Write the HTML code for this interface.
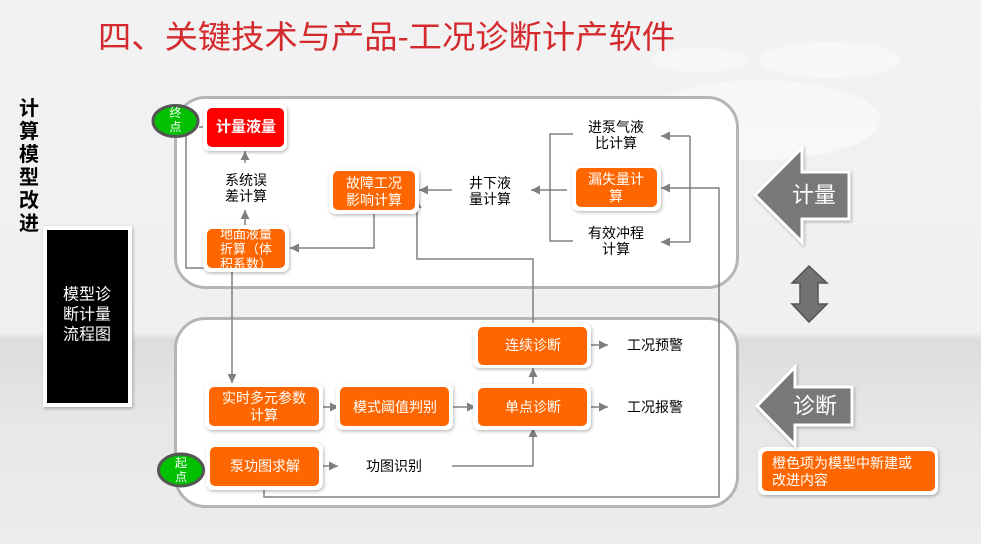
<!DOCTYPE html>
<html><head><meta charset="utf-8">
<style>
html,body{margin:0;padding:0;width:981px;height:544px;overflow:hidden;background:#f0f0f0;}
svg{display:block;}
text{font-family:"Liberation Sans","Noto Sans CJK SC",sans-serif;}
</style></head>
<body>
<svg width="981" height="544" viewBox="0 0 981 544" xmlns="http://www.w3.org/2000/svg">
<defs>
<linearGradient id="bg" x1="0" y1="0" x2="0" y2="1">
<stop offset="0" stop-color="#f2f2f2"/>
<stop offset="0.61" stop-color="#f0f0f0"/>
<stop offset="0.625" stop-color="#dddddd"/>
<stop offset="0.8" stop-color="#e8e8e8"/>
<stop offset="1" stop-color="#ececec"/>
</linearGradient>
<filter id="sh" x="-20%" y="-20%" width="140%" height="140%">
<feDropShadow dx="1" dy="1.5" stdDeviation="1.5" flood-color="#000" flood-opacity="0.28"/>
</filter>
<marker id="ah" markerUnits="userSpaceOnUse" markerWidth="10" markerHeight="10" refX="9" refY="5" orient="auto">
<path d="M0,0.5 L9,5 L0,9.5 z" fill="#7f7f7f"/>
</marker>
</defs>
<rect x="0" y="0" width="981" height="544" fill="url(#bg)"/>
<!-- faint map shapes -->
<g fill="#f8f8f8" opacity="0.9">
<ellipse cx="330" cy="250" rx="70" ry="35"/>
<ellipse cx="430" cy="200" rx="90" ry="25"/>
<ellipse cx="760" cy="120" rx="120" ry="40"/>
<ellipse cx="830" cy="60" rx="70" ry="18"/>
<ellipse cx="700" cy="60" rx="50" ry="12"/>
</g>

<!-- title -->
<text x="98" y="48" font-size="32" fill="#d42a2e" textLength="577" lengthAdjust="spacingAndGlyphs">四、关键技术与产品-工况诊断计产软件</text>

<!-- left vertical text -->
<g font-size="20" font-weight="bold" fill="#000" text-anchor="middle" dominant-baseline="central">
<text x="29" y="109">计</text>
<text x="29" y="132">算</text>
<text x="29" y="155">模</text>
<text x="29" y="178">型</text>
<text x="29" y="201">改</text>
<text x="29" y="224">进</text>
</g>

<!-- black box -->
<rect x="43" y="226" width="89" height="181" fill="#fff" filter="url(#sh)"/>
<rect x="47" y="230" width="81" height="173" fill="#000"/>
<g font-size="16" fill="#fff" text-anchor="middle" dominant-baseline="central">
<text x="87" y="295">模型诊</text>
<text x="87" y="315">断计量</text>
<text x="87" y="335">流程图</text>
</g>

<!-- panels -->
<rect x="175.5" y="97.5" width="562" height="190" rx="30" fill="#fff" stroke="#b5b5b5" stroke-width="3"/>
<rect x="175.5" y="318.5" width="562" height="188" rx="30" fill="#fff" stroke="#b5b5b5" stroke-width="3"/>

<!-- connectors -->
<g stroke="#808080" stroke-width="1.5" fill="none">
<line x1="199" y1="127" x2="206" y2="127"/>
<line x1="245" y1="163" x2="245" y2="151" marker-end="url(#ah)"/>
<line x1="245" y1="227" x2="245" y2="210" marker-end="url(#ah)"/>
<polyline points="232,268 186,268 186,136"/>
<line x1="232" y1="268" x2="232" y2="383" marker-end="url(#ah)"/>
<polyline points="374,211 374,248 290,248" marker-end="url(#ah)"/>
<polyline points="533,323 533,259 417,259 417,199" marker-end="url(#ah)"/>
<line x1="452" y1="190" x2="419" y2="190" marker-end="url(#ah)"/>
<line x1="567" y1="190" x2="531" y2="190" marker-end="url(#ah)"/>
<polyline points="573,134 550,134 550,241 573,241"/>
<line x1="690" y1="136" x2="690" y2="242"/>
<line x1="690" y1="136" x2="661" y2="136" marker-end="url(#ah)"/>
<line x1="690" y1="242" x2="661" y2="242" marker-end="url(#ah)"/>
<polyline points="264,488 264,497 719,497 719,188 661,188" marker-end="url(#ah)"/>
<line x1="591" y1="345" x2="608" y2="345" marker-end="url(#ah)"/>
<line x1="591" y1="407" x2="608" y2="407" marker-end="url(#ah)"/>
<line x1="533" y1="387" x2="533" y2="368" marker-end="url(#ah)"/>
<polyline points="452,466 533,466 533,428" marker-end="url(#ah)"/>
<line x1="323" y1="407" x2="339" y2="407" marker-end="url(#ah)"/>
<line x1="451" y1="407" x2="476" y2="407" marker-end="url(#ah)"/>
<line x1="322" y1="466" x2="338" y2="466" marker-end="url(#ah)"/>
</g>

<!-- nodes -->
<g>
<!-- 计量液量 -->
<rect x="203" y="104" width="84" height="47" rx="7" fill="#fff" filter="url(#sh)"/>
<rect x="207" y="108" width="77" height="39" rx="5" fill="#ff0000"/>
<!-- 地面液量 -->
<rect x="203" y="225" width="86" height="47" rx="7" fill="#fff" filter="url(#sh)"/>
<rect x="207" y="229" width="78" height="39" rx="5" fill="#ff6600"/>
<!-- 故障 -->
<rect x="329" y="167" width="90" height="47" rx="7" fill="#fff" filter="url(#sh)"/>
<rect x="333" y="171" width="82" height="39" rx="5" fill="#ff6600"/>
<!-- 漏失量 -->
<rect x="572" y="165" width="89" height="46" rx="7" fill="#fff" filter="url(#sh)"/>
<rect x="576" y="168" width="81" height="39" rx="5" fill="#ff6600"/>
<!-- 连续诊断 -->
<rect x="473" y="323" width="118" height="45" rx="7" fill="#fff" filter="url(#sh)"/>
<rect x="478" y="327" width="109" height="38" rx="5" fill="#ff6600"/>
<!-- 单点诊断 -->
<rect x="473" y="384" width="118" height="46" rx="7" fill="#fff" filter="url(#sh)"/>
<rect x="478" y="388" width="109" height="38" rx="5" fill="#ff6600"/>
<!-- 实时多元 -->
<rect x="205" y="383" width="118" height="47" rx="7" fill="#fff" filter="url(#sh)"/>
<rect x="209" y="387" width="110" height="39" rx="5" fill="#ff6600"/>
<!-- 模式阈值 -->
<rect x="336" y="383" width="117" height="47" rx="7" fill="#fff" filter="url(#sh)"/>
<rect x="340" y="387" width="109" height="39" rx="5" fill="#ff6600"/>
<!-- 泵功图 -->
<rect x="206" y="443" width="117" height="47" rx="7" fill="#fff" filter="url(#sh)"/>
<rect x="210" y="447" width="109" height="39" rx="5" fill="#ff6600"/>
<!-- ellipses -->
<ellipse cx="175.5" cy="121" rx="22.5" ry="15.5" fill="#00c000" stroke="#555" stroke-width="3"/>
<ellipse cx="181" cy="470" rx="22.5" ry="16" fill="#00c000" stroke="#555" stroke-width="3"/>
<!-- note box -->
<rect x="758" y="447" width="180" height="48" rx="7" fill="#fff" filter="url(#sh)"/>
<rect x="762" y="451" width="173" height="40" rx="5" fill="#ff6600"/>
</g>

<!-- node texts -->
<g fill="#fff" text-anchor="middle" dominant-baseline="central">
<text x="175.5" y="113" font-size="12">终</text>
<text x="175.5" y="127" font-size="12">点</text>
<text x="181" y="463" font-size="12">起</text>
<text x="181" y="477" font-size="12">点</text>
<text x="246" y="127" font-size="15" font-weight="bold">计量液量</text>
<text x="246" y="234" font-size="13">地面液量</text>
<text x="246" y="249" font-size="13">折算（体</text>
<text x="246" y="264" font-size="13">积系数）</text>
<text x="374" y="183" font-size="14">故障工况</text>
<text x="374" y="200" font-size="14">影响计算</text>
<text x="616" y="179" font-size="14">漏失量计</text>
<text x="616" y="196" font-size="14">算</text>
<text x="533" y="345" font-size="14">连续诊断</text>
<text x="533" y="407" font-size="14">单点诊断</text>
<text x="264" y="398" font-size="14">实时多元参数</text>
<text x="264" y="415" font-size="14">计算</text>
<text x="395" y="407" font-size="14">模式阈值判别</text>
<text x="265" y="466" font-size="14">泵功图求解</text>
</g>
<g fill="#fff" font-size="14" dominant-baseline="central">
<text x="772" y="463">橙色项为模型中新建或</text>
<text x="772" y="480">改进内容</text>
</g>

<!-- plain texts -->
<g fill="#000" font-size="14" text-anchor="middle" dominant-baseline="central">
<text x="246" y="180">系统误</text>
<text x="246" y="196">差计算</text>
<text x="490" y="183">井下液</text>
<text x="490" y="199">量计算</text>
<text x="616" y="127">进泵气液</text>
<text x="616" y="143">比计算</text>
<text x="616" y="233">有效冲程</text>
<text x="616" y="249">计算</text>
<text x="394" y="466">功图识别</text>
<text x="655" y="345">工况预警</text>
<text x="655" y="407">工况报警</text>
</g>

<!-- right big arrows -->
<polygon points="755,195 802,148 802,172 849,172 849,219 802,219 802,242" fill="#787878" stroke="#fff" stroke-width="3" stroke-linejoin="miter" filter="url(#sh)"/>
<text x="814" y="195" font-size="22" fill="#fff" text-anchor="middle" dominant-baseline="central">计量</text>
<polygon points="757,406 795,367 795,387 852,387 852,425 795,425 795,445" fill="#787878" stroke="#fff" stroke-width="3" stroke-linejoin="miter" filter="url(#sh)"/>
<text x="815" y="406" font-size="22" fill="#fff" text-anchor="middle" dominant-baseline="central">诊断</text>
<polygon points="809,266 827,283 818,283 818,304 827,304 809,322 792,304 800,304 800,283 792,283" fill="#727272" stroke="#555" stroke-width="1.5"/>
</svg>
</body></html>
